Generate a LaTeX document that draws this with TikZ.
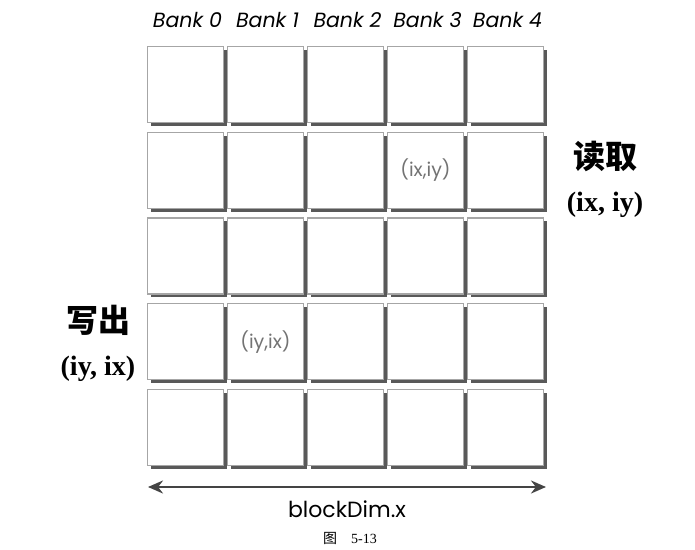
\documentclass[tikz,border=0pt]{standalone}
\usepackage{fontspec}
\usepackage{tikz}
\usetikzlibrary{arrows.meta,shadows}
\newfontfamily\cjk{Noto Sans CJK SC}
\newfontfamily\pop{Poppins}
\newfontfamily\tms{Liberation Serif}
\definecolor{arrowgray}{HTML}{444444}

\begin{document}
\begin{tikzpicture}[x=1pt, y=1pt,
    cell/.style={draw=black!35, line width=1.2pt, fill=white, minimum size=76pt, inner sep=0pt,
      drop shadow={shadow xshift=3.5pt, shadow yshift=-3.5pt, fill=black!65, opacity=1}},
    banklab/.style={font=\pop\itshape\fontsize{20.5}{24}\selectfont},
    idxlab/.style={text=black!55, font=\pop\fontsize{19}{22}\selectfont},
    sidelab/.style={align=center, font=\fontsize{28}{43}\selectfont}]
    \useasboundingbox (0,0) rectangle (695,549);
    \foreach \r in {0,...,4}
      \foreach \c in {0,...,4}
        \node[cell] (c-\r-\c) at (185.5+80*\c, 464.5-85.75*\r) {};
    \foreach \c in {0,...,4}
      \node[banklab] (bank\c) at (187.5+80*\c, 529) {Bank \c};
    \node[idxlab] at (c-1-3) {(ix,iy)};
    \node[idxlab] at (c-3-1) {(iy,ix)};
    \node[sidelab] (read) at (605, 370) {{\cjk\bfseries\fontsize{32}{34}\selectfont 读取}\\{\tms\bfseries (ix, iy)}};
    \node[sidelab] (write) at (98, 206) {{\cjk\bfseries\fontsize{32}{34}\selectfont 写出}\\{\tms\bfseries (iy, ix)}};
    \coordinate (dimL) at (148, 62);
    \coordinate (dimR) at (546, 62);
    \draw[arrowgray, line width=2.4pt, {Stealth[length=15pt,width=13pt]}-{Stealth[length=15pt,width=13pt]}] (dimL) -- (dimR);
    \node[font=\pop\fontsize{22}{26}\selectfont] (dimlab) at (347, 40) {blockDim.x};
    \node[font=\fontsize{14}{16}\selectfont] (cap) at (350, 11) {\cjk 图\quad\tms 5-13};
\end{tikzpicture}
\end{document}
